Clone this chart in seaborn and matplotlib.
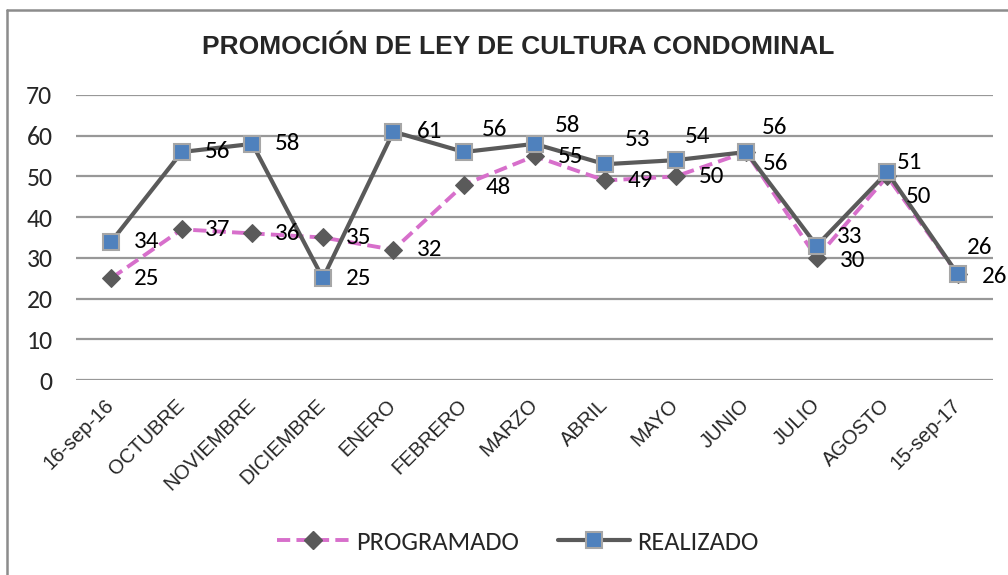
import matplotlib
matplotlib.use("Agg")
import matplotlib.pyplot as plt
from matplotlib.lines import Line2D
import seaborn as sns
import pandas as pd

# ---- data ----
categories = ["16-sep-16", "OCTUBRE", "NOVIEMBRE", "DICIEMBRE", "ENERO", "FEBRERO",
              "MARZO", "ABRIL", "MAYO", "JUNIO", "JULIO", "AGOSTO", "15-sep-17"]
programado = [25, 37, 36, 35, 32, 48, 55, 49, 50, 56, 30, 50, 26]
realizado = [34, 56, 58, 25, 61, 56, 58, 53, 54, 56, 33, 51, 26]
title = "PROMOCIÓN DE LEY DE CULTURA CONDOMINAL"
yticks = [0, 10, 20, 30, 40, 50, 60, 70]

# label offsets in pixels (dx, dy up)
real_off = [(23, 0), (23, 0), (23, 0), (23, 0), (23, 0), (18, 22), (20, 18),
            (20, 25), (9, 24), (16, 24), (20, 9), (10, 10), (9, 27)]
prog_off = [(23, 0), (23, 0), (23, 0), (23, 0), (23, 0), (22, -3), (23, 0),
            (23, 0), (23, 0), (17, -11), (23, -3), (19, -20), (24, -2)]

sns.set_theme(style="white")
plt.rcParams['font.family'] = ['Liberation Sans', 'DejaVu Sans']
CAL = ['Carlito', 'DejaVu Sans']

df = pd.DataFrame({"x": list(range(len(categories))),
                   "PROGRAMADO": programado, "REALIZADO": realizado})

fig = plt.figure(figsize=(10.08, 5.75), dpi=100)
ax = fig.add_axes([76 / 1008, 195 / 575, (993 - 76) / 1008, 285 / 575])

ax.set_ylim(0, 70)
ax.set_xlim(-0.5, len(categories) - 0.5)
ax.set_yticks(yticks)
for y in yticks:
    ax.axhline(y, color="#989898", lw=1.6, zorder=0)

PINK = "#D76FCB"
GRAY = "#5A5A5A"
sns.lineplot(data=df, x="x", y="PROGRAMADO", ax=ax, color=PINK, lw=2.8,
             linestyle=(0, (3.4, 1.6)), marker="D", markersize=9,
             markerfacecolor=GRAY, markeredgecolor=GRAY, zorder=3)
sns.lineplot(data=df, x="x", y="REALIZADO", ax=ax, color=GRAY, lw=3.0,
             marker="s", markersize=11, markerfacecolor="#4F81BD",
             markeredgecolor="#A6A6A6", markeredgewidth=1.5, zorder=4)

for i, v in enumerate(realizado):
    dx, dy = real_off[i]
    ax.annotate(str(v), (i, v), xytext=(dx * 0.72, dy * 0.72), textcoords="offset points",
                ha="left", va="center", fontsize=18, family=CAL, color="black", zorder=6)
for i, v in enumerate(programado):
    dx, dy = prog_off[i]
    ax.annotate(str(v), (i, v), xytext=(dx * 0.72, dy * 0.72), textcoords="offset points",
                ha="left", va="center", fontsize=18, family=CAL, color="black", zorder=5)

ax.set_xticks(range(len(categories)))
ax.set_xticklabels(categories, rotation=45, ha="right", va="center",
                   rotation_mode="anchor", fontsize=14.5)
ax.tick_params(axis="x", length=0, pad=16)
ax.tick_params(axis="y", length=0, pad=17)
for lbl in ax.get_yticklabels():
    lbl.set_fontfamily(CAL)
    lbl.set_fontsize(18.5)
ax.set_xlabel("")
ax.set_ylabel("")
for s in ax.spines.values():
    s.set_visible(False)

fig.text(518 / 1008, 1 - 47 / 575, title, ha="center", va="center",
         fontsize=19, fontweight="bold")

handles = [
    Line2D([], [], color=PINK, lw=2.8, linestyle=(0, (3.4, 1.6)), marker="D",
           markersize=9, markerfacecolor=GRAY, markeredgecolor=GRAY),
    Line2D([], [], color=GRAY, lw=3.0, marker="s", markersize=11,
           markerfacecolor="#4F81BD", markeredgecolor="#A6A6A6", markeredgewidth=1.5),
]
fig.legend(handles, ["PROGRAMADO", "REALIZADO"], loc="center",
           bbox_to_anchor=(518 / 1008, 1 - 542 / 575), ncol=2, frameon=False,
           handlelength=2.73, columnspacing=1.48, handletextpad=0.27,
           prop={"family": CAL, "size": 19})
if ax.get_legend() is not None:
    ax.get_legend().remove()

# chart border (top and left visible)
fig.add_artist(Line2D([7 / 1008, 7 / 1008], [0, 1 - 10 / 575], transform=fig.transFigure,
                      color="#8C8C8C", lw=1.8))
fig.add_artist(Line2D([7 / 1008, 1], [1 - 10 / 575, 1 - 10 / 575], transform=fig.transFigure,
                      color="#8C8C8C", lw=1.8))

fig.savefig("out.png", dpi=100)
